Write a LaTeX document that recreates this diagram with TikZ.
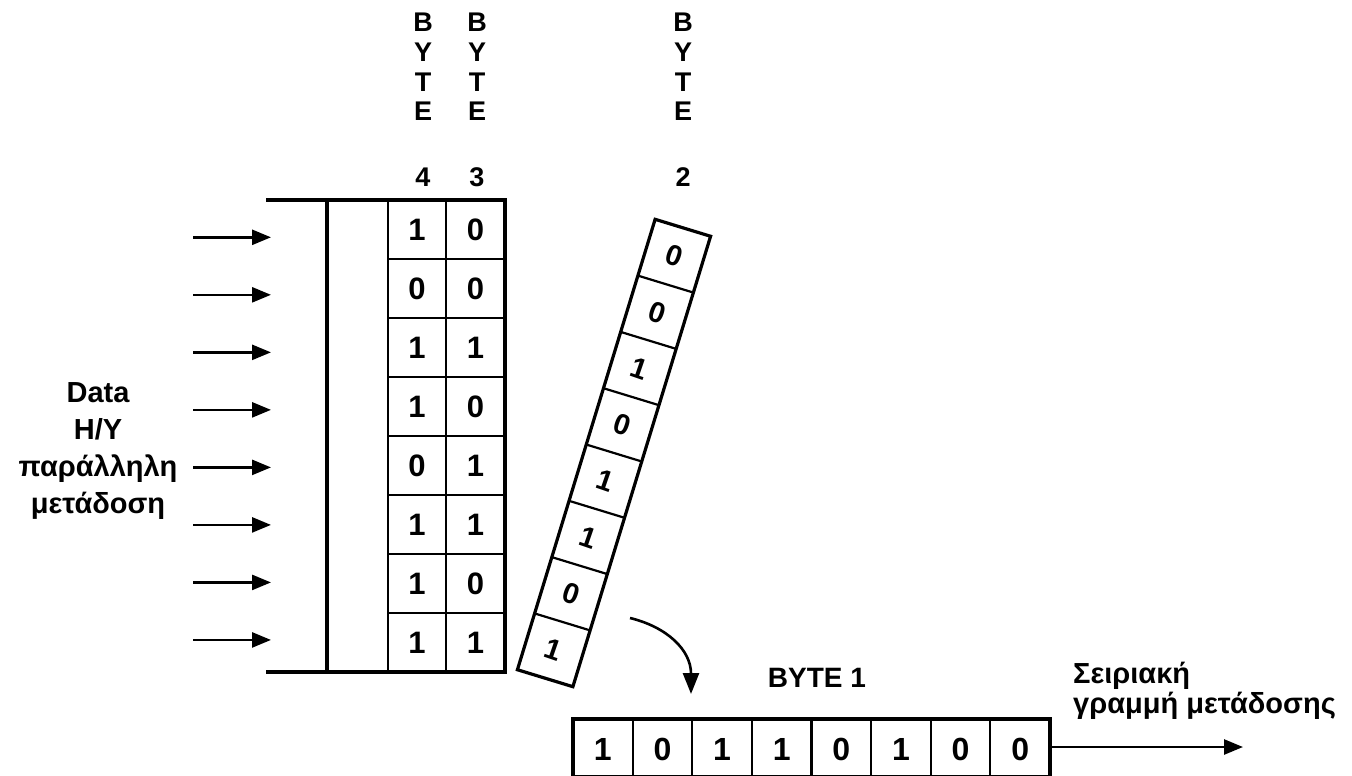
\documentclass[tikz,border=0pt]{standalone}
\usepackage{fontspec}
\setmainfont{Liberation Sans}
\usetikzlibrary{arrows.meta}
\begin{document}
\begin{tikzpicture}[x=1pt,y=-1pt,
  thickline/.style={line width=3.2pt},
  thinline/.style={line width=2.2pt},
  inarrow/.style={line width=2.6pt,-{Triangle[length=19pt,width=15pt]}},
  bit/.style={font=\fontsize{31}{31}\selectfont\bfseries, inner sep=0pt},
  tbit/.style={font=\fontsize{29}{29}\selectfont\bfseries, inner sep=0pt, rotate=-19},
  sbit/.style={font=\fontsize{32}{32}\selectfont\bfseries, inner sep=0pt},
  lbl/.style={font=\fontsize{27}{29.7}\selectfont\bfseries, inner sep=0pt, align=center, anchor=north},
]
\useasboundingbox (0,0) rectangle (1352,776);
\fill[white] (0,0) rectangle (1352,776);

% left register
\draw[thickline] (266,200) -- (507,200);
\draw[thickline] (266,672) -- (507,672);
\draw[thickline] (327,200) -- (327,672);
\draw[thickline] (505,200) -- (505,672);
\draw[thinline] (388,200) -- (388,672);
\draw[thinline] (446,200) -- (446,672);
\foreach \i in {1,...,7} \draw[thinline] (388,200+59*\i) -- (505,200+59*\i);
\foreach \a/\b [count=\i from 0] in {1/0,0/0,1/1,1/0,0/1,1/1,1/0,1/1} {
  \node[bit] (c4-\i) at (417,229.5+59*\i) {\a};
  \node[bit] (c3-\i) at (475.5,229.5+59*\i) {\b};
}

% input arrows
\foreach \i in {0,...,7} {
  \coordinate (ia-\i) at (193,237.3+57.52*\i);
  \coordinate (ib-\i) at (271,237.3+57.52*\i);
  \draw[inarrow] (ia-\i) -- (ib-\i);
}

% tilted byte 2
\begin{scope}[shift={(614,453)}, rotate=-17]
  \draw[thickline] (-29,-235.5) rectangle (29,235.5);
  \foreach \i in {1,...,7} \draw[thinline] (-29,-235.5+58.875*\i) -- (29,-235.5+58.875*\i);
  \foreach \v [count=\i from 0] in {0,0,1,0,1,1,0,1}
    \node[tbit] (t-\i) at (0,-235.5+58.875*\i+29.44) {\v};
\end{scope}

% curved arrow
\coordinate (cs) at (630,618);
\coordinate (ce) at (691,694);
\draw[line width=2.6pt,-{Triangle[length=21pt,width=16pt]}] (cs) .. controls (667,627) and (691,650) .. (ce);

% byte 1 serial
\draw[thickline] (573,719) rectangle (1050,777);
\foreach \i in {1,...,7} \draw[thinline] (573+59.625*\i,719) -- (573+59.625*\i,777);
\foreach \v [count=\i from 0] in {1,0,1,1,0,1,0,0}
  \node[sbit] (s-\i) at (573+59.625*\i+29.8,749) {\v};
\coordinate (so) at (1050,747);
\coordinate (se) at (1243,747);
\draw[inarrow] (so) -- (se);

% labels
\node[lbl] (byte4) at (423,13) {B\\Y\\T\\E\\[35.5pt]4};
\node[lbl] (byte3) at (477,13) {B\\Y\\T\\E\\[35.5pt]3};
\node[lbl] (byte2) at (683,13) {B\\Y\\T\\E\\[35.5pt]2};
\node[font=\fontsize{28}{28}\selectfont\bfseries, inner sep=0pt] (byte1) at (817,678) {BYTE 1};
\node[font=\fontsize{29}{37}\selectfont\bfseries, align=center, anchor=north, inner sep=0pt] (data) at (98,382) {Data\\H/Y\\παράλληλη\\μετάδοση};
\node[font=\fontsize{29}{30}\selectfont\bfseries, align=left, anchor=north west, inner sep=0pt] (serial) at (1073,662) {Σειριακή\\γραμμή μετάδοσης};
\end{tikzpicture}
\end{document}
